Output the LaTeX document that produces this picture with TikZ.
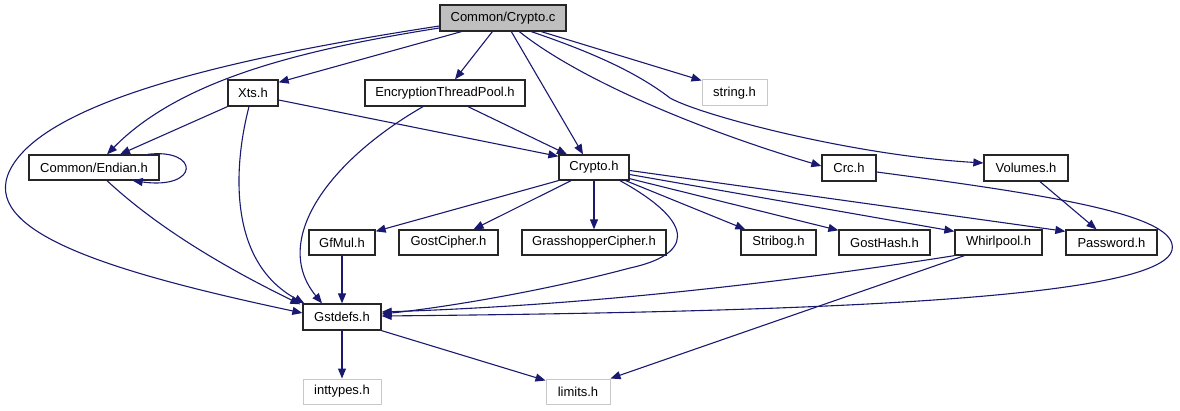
\documentclass[tikz,border=0pt]{standalone}
\usepackage{fontspec}
\setmainfont{Liberation Sans}
\usetikzlibrary{arrows.meta,calc}
\definecolor{edgeblue}{HTML}{191970}
\definecolor{grayfill}{HTML}{BFBFBF}
\definecolor{lightborder}{HTML}{C8C8C8}
\begin{document}
\begin{tikzpicture}[x=1pt,y=-1pt,
  box/.style={draw=black!85, fill=white, line width=1.3pt, inner sep=0pt, minimum height=25pt, font=\fontsize{13}{15}\selectfont},
  extbox/.style={box, draw=lightborder, line width=1pt},
  dep/.style={draw=edgeblue, line width=1.1pt, -{Triangle[length=10pt,width=8pt]}}]
\useasboundingbox (0,0) rectangle (1180,411);

% nodes
\node[box, fill=grayfill, minimum width=126pt, minimum height=26pt] (cc) at (503,18) {Common/Crypto.c};
\node[box, minimum width=50pt, minimum height=26pt] (xts) at (253,93) {Xts.h};
\node[box, minimum width=160pt, minimum height=26pt] (etp) at (445,93) {EncryptionThreadPool.h};
\node[extbox, minimum width=65pt, minimum height=26pt] (string) at (734.5,93) {string.h};
\node[box, minimum width=130pt] (endian) at (94,167.5) {Common/Endian.h};
\node[box, minimum width=70pt] (cryptoh) at (594,167.5) {Crypto.h};
\node[box, minimum width=54pt, minimum height=26pt] (crc) at (849,168) {Crc.h};
\node[box, minimum width=84pt, minimum height=26pt] (volumes) at (1026,168) {Volumes.h};
\node[box, minimum width=66pt] (gfmul) at (342,242.5) {GfMul.h};
\node[box, minimum width=99pt] (gostc) at (448.5,242.5) {GostCipher.h};
\node[box, minimum width=144pt] (grass) at (594,242.5) {GrasshopperCipher.h};
\node[box, minimum width=75pt] (stribog) at (778.5,242.5) {Stribog.h};
\node[box, minimum width=91pt] (gosth) at (884.5,242.5) {GostHash.h};
\node[box, minimum width=87pt] (whirl) at (998.5,242.5) {Whirlpool.h};
\node[box, minimum width=91pt] (pass) at (1111.5,242.5) {Password.h};
\node[box, minimum width=78pt, minimum height=26pt] (gst) at (342,317) {Gstdefs.h};
\node[extbox, minimum width=78pt] (intt) at (342,391.5) {inttypes.h};
\node[extbox, minimum width=64pt] (limits) at (578,391.5) {limits.h};

% edges from Common/Crypto.c
\draw[dep] ($(cc.west)+(0,8)$) .. controls (250,55) and (46,98) .. (10,170)
  .. controls (-20,230) and (100,270) .. ($(gst.west)+(0,-4)$);
\draw[dep] ($(cc.west)+(0,10)$) .. controls (300,50) and (180,80) .. ($(endian.north)+(13,0)$);
\draw[dep] ($(cc.south west)+(22,0)$) -- ($(xts.north east)+(0,3)$);
\draw[dep] ($(cc.south west)+(53,0)$) -- ($(etp.north)+(10,0)$);
\draw[dep] ($(cc.south west)+(72,0)$) -- ($(cryptoh.north)+(-11,0)$);
\draw[dep] ($(cc.south west)+(102,0)$) -- ($(string.north west)+(0,1)$);
\draw[dep] ($(cc.south west)+(80,0)$) .. controls (580,80) and (700,130) .. ($(crc.west)+(0,-2)$);
\draw[dep] ($(cc.south west)+(92,0)$) .. controls (600,55) and (640,75) .. (670,98)
  .. controls (700,115) and (850,155) .. ($(volumes.west)+(0,-5)$);

% Xts.h
\draw[dep] (xts.south west) -- ($(endian.north)+(26,0)$);
\draw[dep] ($(xts.south)+(-4,0)$) .. controls (235,160) and (225,260) .. ($(gst.north west)+(2,0)$);
\draw[dep] ($(xts.east)+(0,7)$) -- ($(cryptoh.north west)+(0,2)$);

% EncryptionThreadPool.h
\draw[dep] ($(etp.south)+(23,0)$) -- ($(cryptoh.north)+(-27,0)$);
\draw[dep] ($(etp.south)+(-22,0)$) .. controls (330,160) and (270,240) .. ($(gst.north)+(-20,0)$);

% Common/Endian.h
\draw[dep] ($(endian.north east)+(-12,0)$) .. controls (200,148) and (200,190) .. ($(endian.south east)+(-27,0)$);
\draw[dep] ($(endian.south)+(13,0)$) .. controls (160,230) and (230,270) .. ($(gst.north west)+(-2,1)$);

% Crypto.h
\draw[dep] (cryptoh.south west) -- ($(gfmul.north east)+(0,2)$);
\draw[dep] ($(cryptoh.south)+(-23,0)$) -- ($(gostc.north)+(25,0)$);
\draw[dep] (cryptoh.south) -- (grass.north);
\draw[dep] ($(cryptoh.south)+(26,0)$) .. controls (700,225) and (690,255) .. (630,268)
  .. controls (540,292) and (440,308) .. ($(gst.east)+(0,-3)$);
\draw[dep] ($(cryptoh.south east)+(-4,0)$) -- ($(stribog.north west)+(5,0)$);
\draw[dep] ($(cryptoh.south east)+(0,-2)$) -- ($(gosth.north west)+(0,1)$);
\draw[dep] ($(cryptoh.east)+(0,7)$) -- ($(whirl.north west)+(0,2)$);
\draw[dep] ($(cryptoh.east)+(0,3)$) -- ($(pass.north west)+(0,2)$);

% Crc.h, Volumes.h, Whirlpool.h
\draw[dep] ($(crc.east)+(0,4)$) .. controls (1050,195) and (1180,215) .. (1172,250)
  .. controls (1160,300) and (800,312) .. ($(gst.east)+(0,-1)$);
\draw[dep] ($(volumes.south)+(14,0)$) -- ($(pass.north)+(-15,0)$);
\draw[dep] (whirl.south west) .. controls (800,280) and (600,305) .. ($(gst.east)+(0,-5)$);
\draw[dep] ($(whirl.south west)+(10,0)$) -- (limits.north east);

% GfMul.h, Gstdefs.h
\draw[dep] (gfmul.south) -- (gst.north);
\draw[dep] (gst.south) -- (intt.north);
\draw[dep] (gst.south east) -- ($(limits.north west)+(0,2)$);
\end{tikzpicture}
\end{document}
